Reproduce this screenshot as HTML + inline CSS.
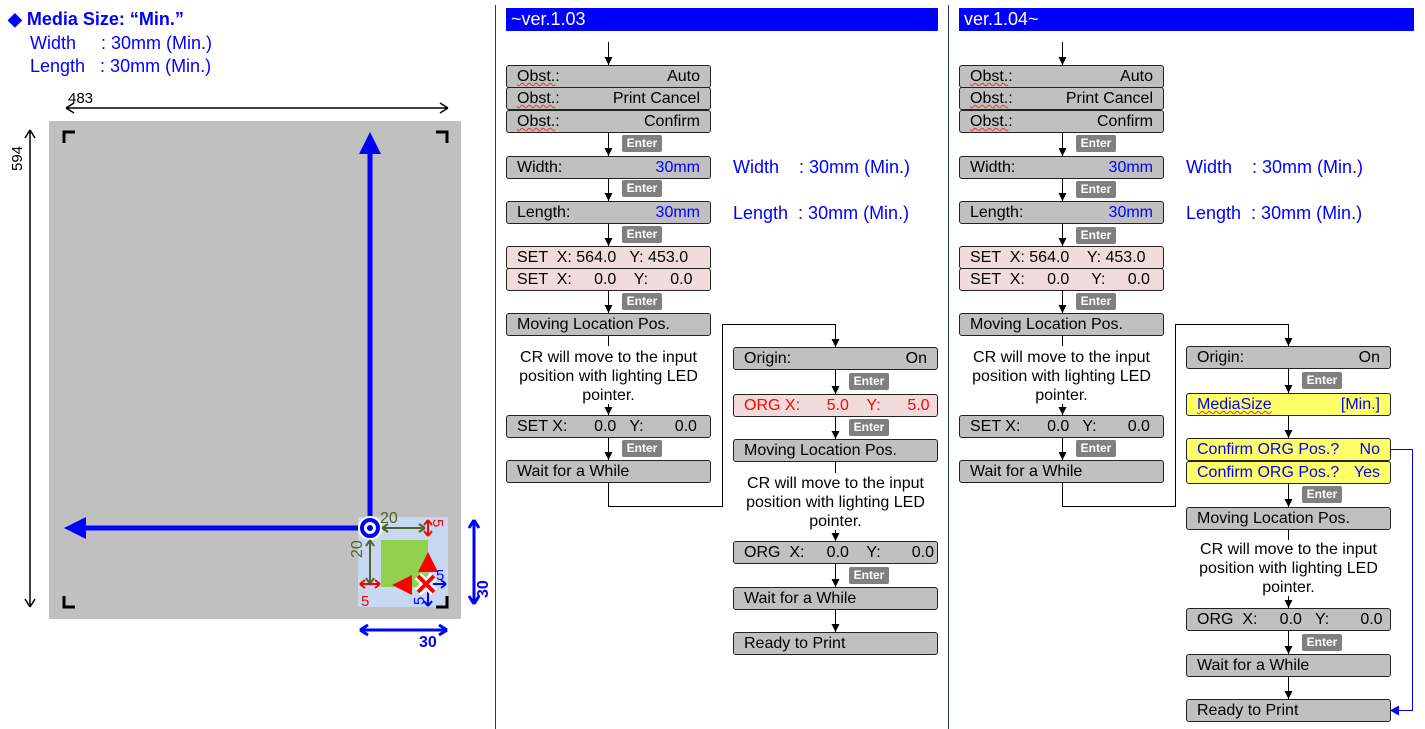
<!DOCTYPE html>
<html><head><meta charset="utf-8"><style>
body{margin:0;width:1425px;height:729px;background:#fff;position:relative;overflow:hidden;font-family:"Liberation Sans",sans-serif;}
.a{position:absolute}
.b{position:absolute;width:183px;height:21px;background:#c0c0c0;border:1px solid #222;border-radius:3px;font-size:16px;line-height:21px;padding:0 10px;display:flex;justify-content:space-between;color:#000;white-space:pre}
.p{background:#f2dcdb}
.y{background:#ffff66;color:#0000ff}
.e{position:absolute;width:40px;height:17px;background:#808080;color:#fff;font-size:12px;font-weight:bold;line-height:17px;text-align:center;border-radius:2px}
.t{position:absolute;width:205px;text-align:center;font-size:16px;line-height:19px}
.h{position:absolute;height:23px;background:#0000ff;color:#fff;font-size:18px;line-height:23px;padding-left:5px}
.u{text-decoration:underline wavy #e33;text-decoration-thickness:1px}
.bl{color:#0000ff}
.s{position:absolute;font-size:18px;color:#0000ff;white-space:pre}
</style></head><body>
<svg class="a" style="left:0;top:0" width="1425" height="729">
<defs><marker id="m" markerWidth="8" markerHeight="8" refX="8" refY="4" orient="auto" markerUnits="userSpaceOnUse"><path d="M0,0L8,4L0,8z" fill="#000"/></marker></defs>
<line x1="495.5" y1="5" x2="495.5" y2="729" stroke="#203864"/>
<line x1="948.5" y1="5" x2="948.5" y2="729" stroke="#203864"/>
<g stroke="#000" stroke-width="1" fill="none" marker-end="url(#m)">
<path d="M608.5,42V65"/><path d="M608.5,132V156"/><path d="M608.5,178V201"/><path d="M608.5,223V246"/><path d="M608.5,290V313"/><path d="M608.5,404V415"/><path d="M608.5,437V460"/>
<path d="M608.5,483V506.5H722.5V324.5H835.5V347"/>
<path d="M835.5,370V394"/><path d="M835.5,416V439"/><path d="M835.5,530V541"/><path d="M835.5,563V587"/><path d="M835.5,609V632"/>
<path d="M1062.5,42V65"/><path d="M1062.5,132V156"/><path d="M1062.5,178V201"/><path d="M1062.5,223V246"/><path d="M1062.5,290V313"/><path d="M1062.5,404V415"/><path d="M1062.5,437V460"/>
<path d="M1062.5,483V506.5H1175.5V324.5H1288.5V346"/>
<path d="M1288.5,369V393"/><path d="M1288.5,415V438"/><path d="M1288.5,483V507"/><path d="M1288.5,596V608"/><path d="M1288.5,630V654"/><path d="M1288.5,676V699"/>
</g>
<g stroke="#000"><line x1="608.5" y1="335" x2="608.5" y2="346"/><line x1="835.5" y1="462" x2="835.5" y2="473"/><line x1="1062.5" y1="335" x2="1062.5" y2="346"/><line x1="1288.5" y1="529" x2="1288.5" y2="540"/></g>
<path d="M1390,449.5H1412.5V710.5H1398" stroke="#0000ff" fill="none"/><path d="M1390,710.5l9,-5v10z" fill="#0000ff"/>
<rect x="49" y="121" width="412" height="498" fill="#c0c0c0"/>
<g stroke="#000" stroke-width="1.5" fill="none">
<path d="M66,108H448M66,108l8,-5M66,108l8,5M448,108l-8,-5M448,108l-8,5"/>
<path d="M30,130V607M30,130l-5,8M30,130l5,8M30,607l-5,-8M30,607l5,-8"/>
</g>
<g stroke="#000" stroke-width="3" fill="none">
<path d="M64,143V132H75"/><path d="M436,132H447V143"/><path d="M64,596V607H75"/><path d="M436,607H447V596"/>
</g>
<rect x="358" y="517" width="90" height="90" fill="#c6d9f1"/>
<rect x="381" y="540" width="47" height="47" fill="#92d050"/>
<path d="M447,607V596M436,607H447" stroke="#000" stroke-width="3"/>
<line x1="370" y1="528" x2="370" y2="145" stroke="#0000ff" stroke-width="5"/>
<path d="M370,132l-11,22h22z" fill="#0000ff"/>
<line x1="358" y1="528" x2="80" y2="528" stroke="#0000ff" stroke-width="5"/>
<path d="M64,528l22,-11v22z" fill="#0000ff"/>
<circle cx="370" cy="528" r="11" fill="#0000ff" stroke="#fff" stroke-width="2"/>
<circle cx="370" cy="528" r="6" fill="#fff"/><circle cx="370" cy="528" r="3" fill="#0000ff"/>
<g stroke="#4f6228" stroke-width="2" fill="none">
<path d="M382,528H425M382,528l6,-4M382,528l6,4M425,528l-6,-4M425,528l-6,4"/>
<path d="M370,540V584M370,540l-4,6M370,540l4,6M370,584l-4,-6M370,584l4,-6"/>
</g>
<g stroke="#ff0000" stroke-width="2" fill="none">
<path d="M428,520V536M428,520l-4,5M428,520l4,5M428,536l-4,-5M428,536l4,-5"/>
<path d="M360,584H380M360,584l5,-4M360,584l5,4M380,584l-5,-4M380,584l-5,4"/>
</g>
<path d="M428,552l-10,20h20z" fill="#ff0000"/><path d="M392,585l20,-10v20z" fill="#ff0000"/>
<g stroke="#0000ff" stroke-width="2" fill="none">
<path d="M428,584H446M446,584l-5,-4M446,584l-5,4"/><path d="M428,588V606M428,606l-4,-5M428,606l4,-5"/>
<path d="M474,520V604M474,520l-5,8M474,520l5,8M474,604l-5,-8M474,604l5,-8" stroke-width="3"/>
<path d="M360,630H447M360,630l8,-5M360,630l8,5M447,630l-8,-5M447,630l-8,5" stroke-width="3"/>
</g>
<path d="M418,576l16,16M434,576l-16,16" stroke="#fff" stroke-width="9"/>
<path d="M418,576l16,16M434,576l-16,16" stroke="#ff0000" stroke-width="4"/>
<text x="380" y="523" font-size="16" fill="#4f6228" font-family="Liberation Sans">20</text>
<text x="362" y="558" font-size="16" fill="#4f6228" font-family="Liberation Sans" transform="rotate(-90 362 558)">20</text>
<text x="433" y="519" font-size="15" fill="#ff0000" font-family="Liberation Sans" transform="rotate(90 433 519)">5</text>
<text x="361" y="606" font-size="15" fill="#ff0000" font-family="Liberation Sans">5</text>
<text x="436" y="580" font-size="15" fill="#0000ff" font-family="Liberation Sans">5</text>
<text x="424" y="605" font-size="15" fill="#0000ff" font-family="Liberation Sans" transform="rotate(-90 424 605)">5</text>
<text x="419" y="647" font-size="16" font-weight="bold" fill="#0000ff" font-family="Liberation Sans">30</text>
<text x="488" y="598" font-size="16" font-weight="bold" fill="#0000ff" font-family="Liberation Sans" transform="rotate(-90 488 598)">30</text>
<text x="68" y="103" font-size="15" font-family="Liberation Sans">483</text>
<text x="22" y="171" font-size="15" font-family="Liberation Sans" transform="rotate(-90 22 171)">594</text>
</svg>
<div class="s" style="left:8px;top:9px;font-weight:bold">◆ Media Size: “Min.”</div>
<div class="s" style="left:30px;top:33px">Width     : 30mm (Min.)</div>
<div class="s" style="left:30px;top:56px">Length   : 30mm (Min.)</div>

<div class="h" style="left:506px;top:8px;width:427px">~ver.1.03</div>
<div class="h" style="left:959px;top:8px;width:450px">ver.1.04~</div>

<div class="b" style="left:506px;top:65px"><span><span class="u">Obst.</span>:</span><span>Auto</span></div>
<div class="b" style="left:506px;top:87px"><span><span class="u">Obst.</span>:</span><span>Print Cancel</span></div>
<div class="b" style="left:506px;top:110px"><span><span class="u">Obst.</span>:</span><span>Confirm</span></div>
<div class="e" style="left:622px;top:135px">Enter</div>
<div class="b" style="left:506px;top:156px"><span>Width:</span><span class="bl">30mm</span></div>
<div class="e" style="left:622px;top:180px">Enter</div>
<div class="b" style="left:506px;top:201px"><span>Length:</span><span class="bl">30mm</span></div>
<div class="e" style="left:622px;top:226px">Enter</div>
<div class="b p" style="left:506px;top:246px"><span>SET  X: 564.0   Y: 453.0</span></div>
<div class="b p" style="left:506px;top:268px"><span>SET  X:     0.0    Y:     0.0</span></div>
<div class="e" style="left:622px;top:293px">Enter</div>
<div class="b" style="left:506px;top:313px"><span>Moving Location Pos.</span></div>
<div class="t" style="left:506px;top:348px">CR will move to the input position with lighting LED pointer.</div>
<div class="b" style="left:506px;top:415px"><span>SET X:      0.0   Y:       0.0</span></div>
<div class="e" style="left:622px;top:440px">Enter</div>
<div class="b" style="left:506px;top:460px"><span>Wait for a While</span></div>
<div class="s" style="left:733px;top:157px">Width    : 30mm (Min.)</div>
<div class="s" style="left:733px;top:203px">Length  : 30mm (Min.)</div>
<div class="b" style="left:733px;top:347px"><span>Origin:</span><span>On</span></div>
<div class="e" style="left:849px;top:373px">Enter</div>
<div class="b p" style="left:733px;top:394px;color:#ff0000"><span>ORG X:      5.0    Y:      5.0</span></div>
<div class="e" style="left:849px;top:419px">Enter</div>
<div class="b" style="left:733px;top:439px"><span>Moving Location Pos.</span></div>
<div class="t" style="left:733px;top:474px">CR will move to the input position with lighting LED pointer.</div>
<div class="b" style="left:733px;top:541px"><span>ORG  X:     0.0    Y:       0.0</span></div>
<div class="e" style="left:849px;top:567px">Enter</div>
<div class="b" style="left:733px;top:587px"><span>Wait for a While</span></div>
<div class="b" style="left:733px;top:632px"><span>Ready to Print</span></div>

<div class="b" style="left:959px;top:65px"><span><span class="u">Obst.</span>:</span><span>Auto</span></div>
<div class="b" style="left:959px;top:87px"><span><span class="u">Obst.</span>:</span><span>Print Cancel</span></div>
<div class="b" style="left:959px;top:110px"><span><span class="u">Obst.</span>:</span><span>Confirm</span></div>
<div class="e" style="left:1076px;top:135px">Enter</div>
<div class="b" style="left:959px;top:156px"><span>Width:</span><span class="bl">30mm</span></div>
<div class="e" style="left:1076px;top:181px">Enter</div>
<div class="b" style="left:959px;top:201px"><span>Length:</span><span class="bl">30mm</span></div>
<div class="e" style="left:1076px;top:227px">Enter</div>
<div class="b p" style="left:959px;top:246px"><span>SET  X: 564.0    Y: 453.0</span></div>
<div class="b p" style="left:959px;top:268px"><span>SET  X:     0.0     Y:     0.0</span></div>
<div class="e" style="left:1076px;top:293px">Enter</div>
<div class="b" style="left:959px;top:313px"><span>Moving Location Pos.</span></div>
<div class="t" style="left:959px;top:348px">CR will move to the input position with lighting LED pointer.</div>
<div class="b" style="left:959px;top:415px"><span>SET X:      0.0   Y:       0.0</span></div>
<div class="e" style="left:1076px;top:440px">Enter</div>
<div class="b" style="left:959px;top:460px"><span>Wait for a While</span></div>
<div class="s" style="left:1186px;top:157px">Width    : 30mm (Min.)</div>
<div class="s" style="left:1186px;top:203px">Length  : 30mm (Min.)</div>
<div class="b" style="left:1186px;top:346px"><span>Origin:</span><span>On</span></div>
<div class="e" style="left:1302px;top:372px">Enter</div>
<div class="b y" style="left:1186px;top:393px"><span class="u">MediaSize</span><span>[Min.]</span></div>
<div class="b y" style="left:1186px;top:438px"><span>Confirm ORG Pos.?</span><span>No</span></div>
<div class="b y" style="left:1186px;top:461px"><span>Confirm ORG Pos.?</span><span>Yes</span></div>
<div class="e" style="left:1302px;top:486px">Enter</div>
<div class="b" style="left:1186px;top:507px"><span>Moving Location Pos.</span></div>
<div class="t" style="left:1186px;top:540px">CR will move to the input position with lighting LED pointer.</div>
<div class="b" style="left:1186px;top:608px"><span>ORG  X:     0.0   Y:       0.0</span></div>
<div class="e" style="left:1302px;top:634px">Enter</div>
<div class="b" style="left:1186px;top:654px"><span>Wait for a While</span></div>
<div class="b" style="left:1186px;top:699px"><span>Ready to Print</span></div>
</body></html>
